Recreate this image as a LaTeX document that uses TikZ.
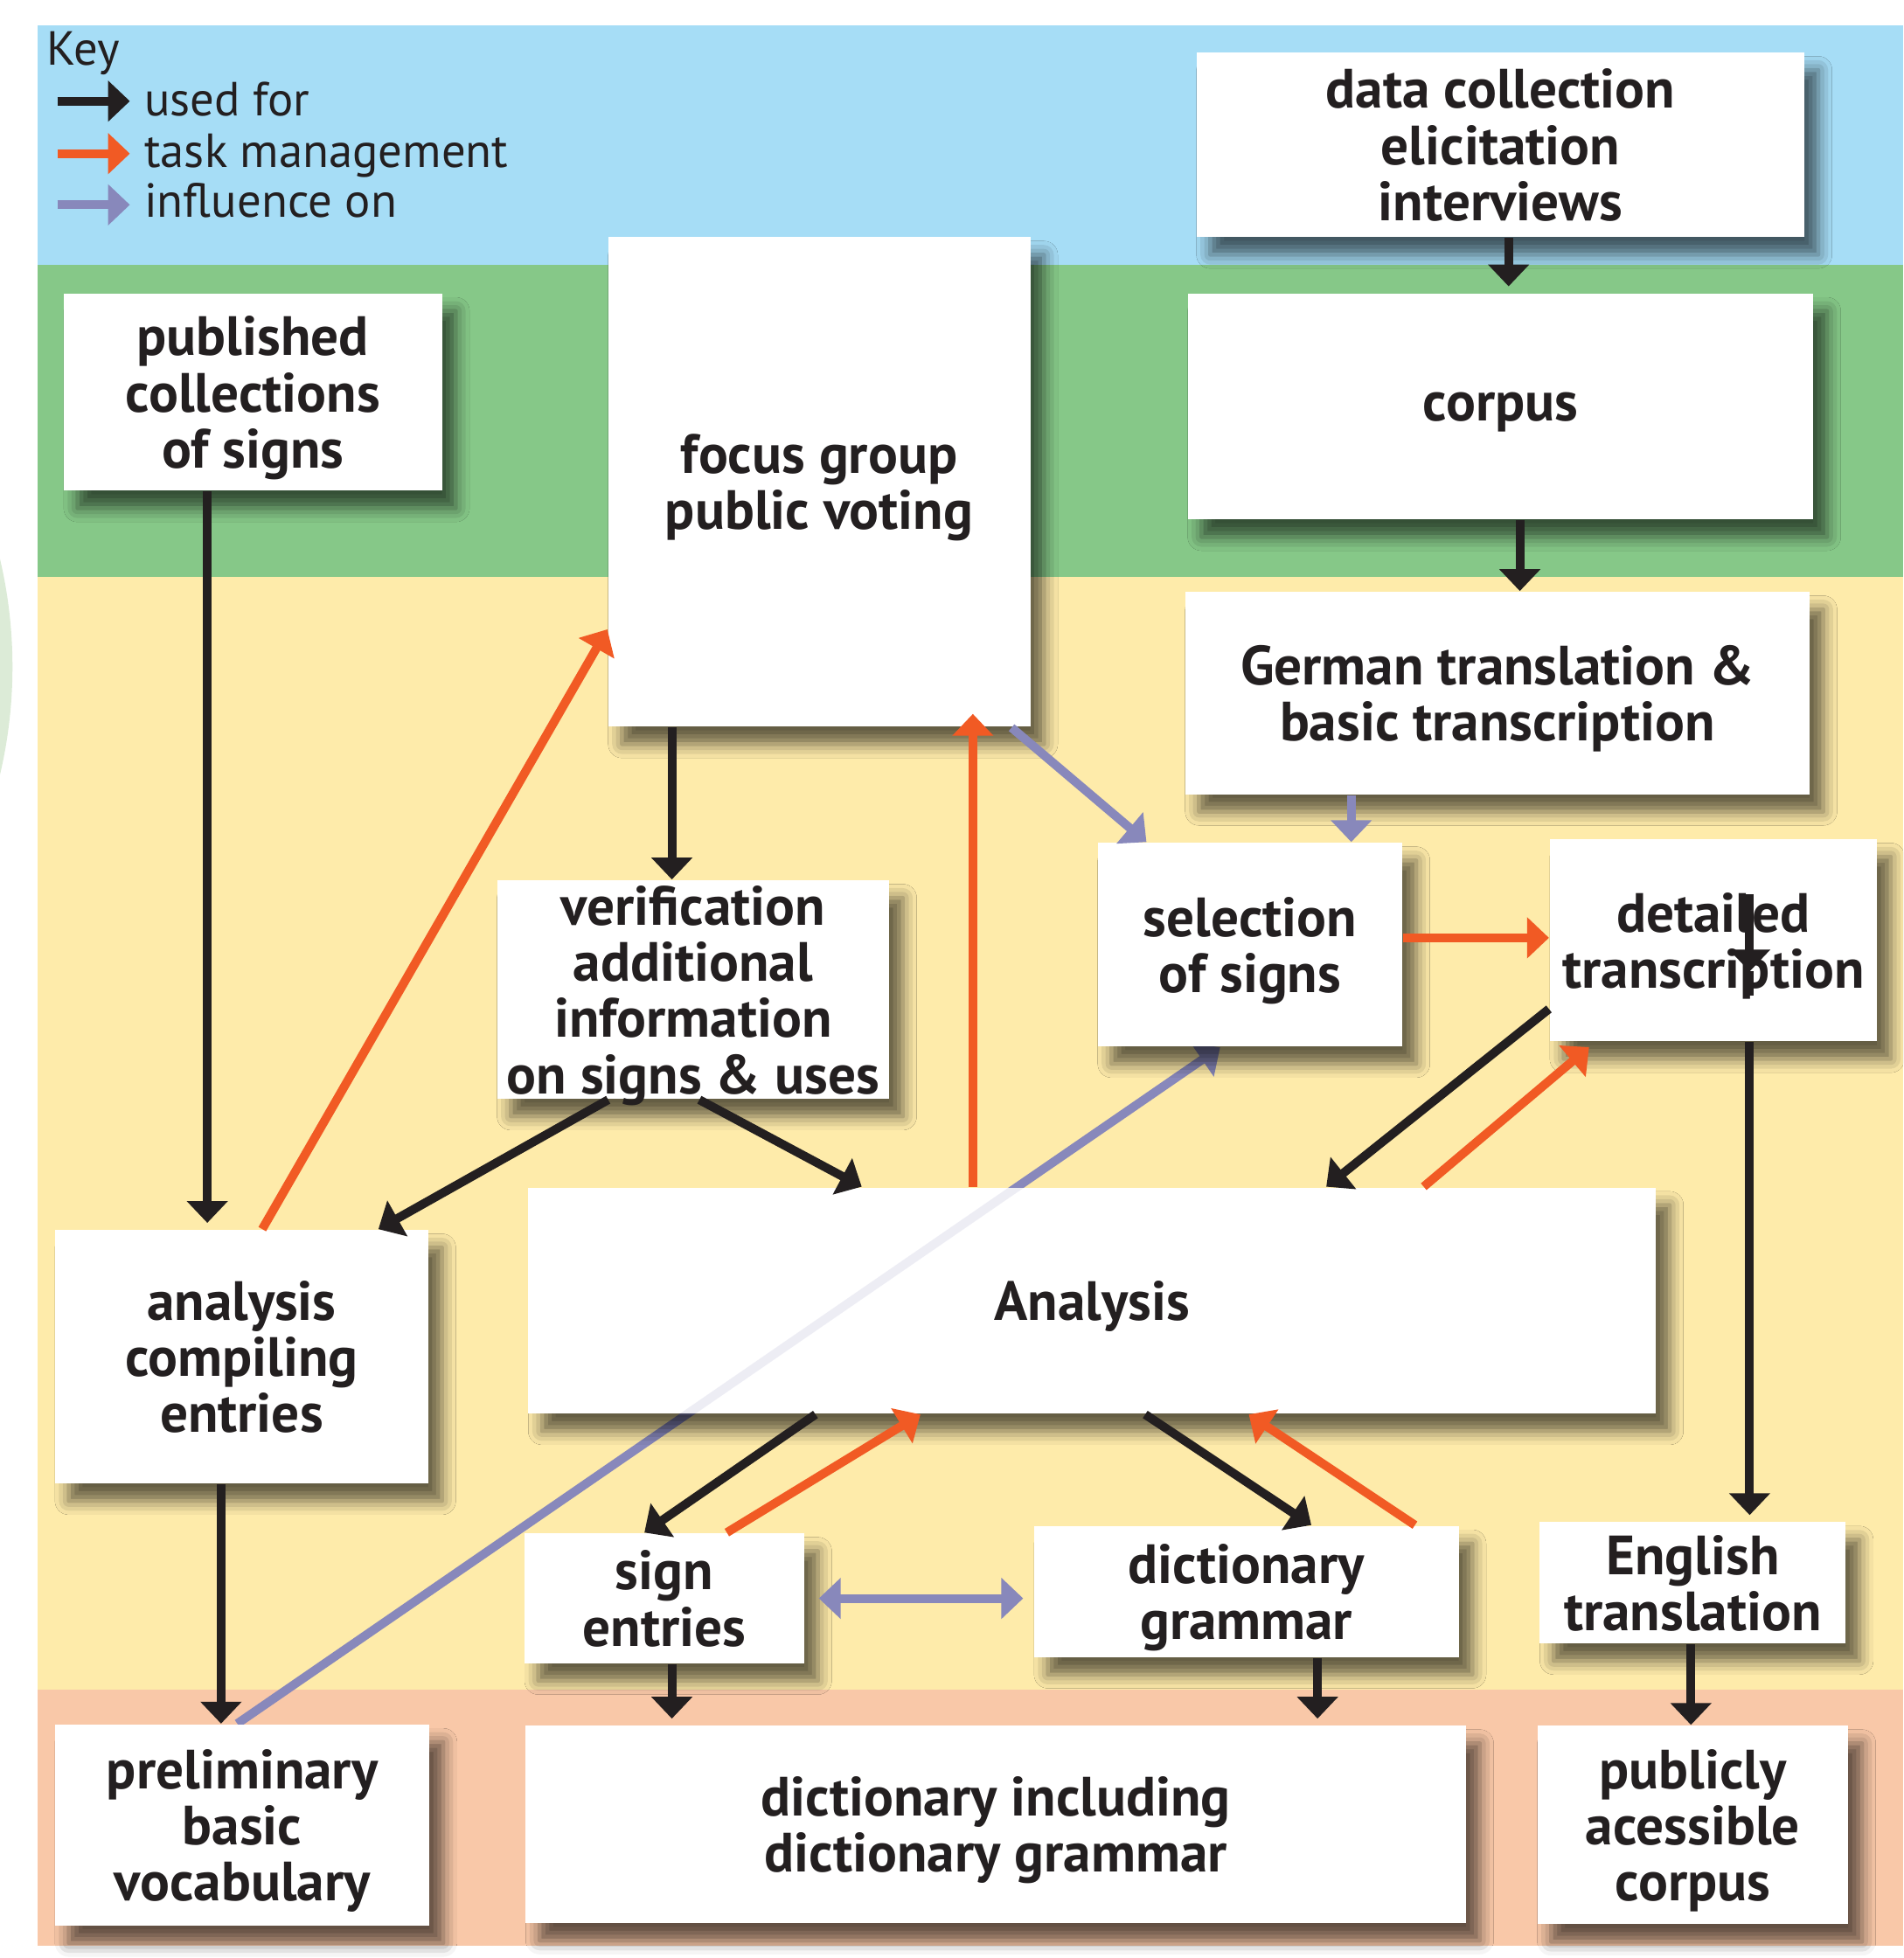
\documentclass[tikz,border=0pt]{standalone}
\usepackage{fontspec}
\setmainfont{PT Sans}
\usepackage{xcolor}
\usepackage{tikz}
\usetikzlibrary{arrows.meta,positioning,backgrounds,shadows.blur}
\definecolor{kink}{RGB}{35,31,32}
\definecolor{korange}{RGB}{241,90,36}
\definecolor{kpurple}{RGB}{136,136,187}
\definecolor{bandblue}{RGB}{166,221,246}
\definecolor{bandgreen}{RGB}{134,200,136}
\definecolor{bandyellow}{RGB}{254,235,170}
\definecolor{bandsalmon}{RGB}{249,200,168}
\definecolor{ringgreen}{RGB}{220,235,215}

\begin{document}
\begin{tikzpicture}[
  x=0.1mm, y=-0.1mm, text=kink,
  font=\fontsize{12.6}{12.8}\selectfont\bfseries,
  box/.style={fill=white, align=center, inner sep=0pt, text depth=0pt,
    blur shadow={shadow xshift=1.1mm, shadow yshift=-1.4mm, shadow blur radius=1.1mm, shadow opacity=60}},
  keylab/.style={anchor=base west, inner sep=0pt, font=\fontsize{10.9}{13}\selectfont},
  conn/.style={line width=0.7mm, -{Triangle[length=1.75mm, width=3.2mm]}},
  usedfor/.style={conn, draw=kink},
  taskmgmt/.style={conn, draw=korange},
  influence/.style={conn, draw=kpurple}
]
\useasboundingbox (0,0) rectangle (1524,1568);

% key
\node[keylab] (keytitle) at (37,52) {Key};
\node[keylab] (keyused) at (115,93) {used for};
\node[keylab] (keytask) at (115,134) {task management};
\node[keylab] (keyinfl) at (115,174) {influence on};
\draw[usedfor] ([shift={(-69,-12)}]keyused.base west) -- ([shift={(-11,-12)}]keyused.base west);
\draw[taskmgmt] ([shift={(-69,-11)}]keytask.base west) -- ([shift={(-11,-11)}]keytask.base west);
\draw[influence] ([shift={(-69,-10)}]keyinfl.base west) -- ([shift={(-11,-10)}]keyinfl.base west);

% boxes
\node[box, minimum width=48.7mm, minimum height=14.8mm] (datacoll) at (1201.5,116) {data collection\\elicitation\\interviews};
\node[box, minimum width=50.1mm, minimum height=18.1mm] (corpus) at (1201.5,325.5) {corpus};
\node[box, minimum width=30.3mm, minimum height=15.8mm] (published) at (202.5,314) {published\\collections\\of signs};
\node[box, minimum width=33.8mm, minimum height=39.2mm] (focus) at (656,386) {focus group\\public voting};
\node[box, minimum width=50.0mm, minimum height=16.2mm] (german) at (1199,555) {German translation \&\\basic transcription};
\node[box, minimum width=31.4mm, minimum height=17.5mm] (verif) at (555,792.5) {verification\\additional\\information\\on signs \& uses};
\node[box, minimum width=24.4mm, minimum height=16.3mm] (selection) at (1001,756.5) {selection\\of signs};
\node[box, minimum width=26.2mm, minimum height=16.2mm] (detailed) at (1372,753) {detailed\\transcription};
\node[box, minimum width=29.9mm, minimum height=20.3mm] (compiling) at (193.5,1086.5) {analysis\\compiling\\entries};
\node[box, minimum width=90.3mm, minimum height=18.1mm] (analysis) at (874.5,1041.5) {Analysis};
\node[box, minimum width=22.4mm, minimum height=10.4mm] (signs) at (532,1280) {sign\\entries};
\node[box, minimum width=34.0mm, minimum height=10.5mm] (grammar) at (998,1274.5) {dictionary\\grammar};
\node[box, minimum width=24.5mm, minimum height=9.7mm] (english) at (1355.5,1267.5) {English\\translation};
\node[box, minimum width=30.0mm, minimum height=16.1mm] (prelim) at (194,1461.5) {preliminary\\basic\\vocabulary};
\node[box, minimum width=75.3mm, minimum height=15.8mm] (dictincl) at (797.5,1461) {dictionary including\\dictionary grammar};
\node[box, minimum width=24.9mm, minimum height=15.9mm] (public) at (1355.5,1461.5) {publicly\\acessible\\corpus};

% bands and the long influence line go underneath
\begin{scope}[on background layer]
  \begin{scope}
    \clip (0,0) rectangle (1524,1568);
    \fill[ringgreen] (-365,534) circle[radius=37.5mm];
  \end{scope}
  \fill[bandblue] (30,20) rectangle (1524,212);
  \fill[bandgreen] (30,212) rectangle (1524,462);
  \fill[bandyellow] (30,462) rectangle (1524,1353);
  \fill[bandsalmon] (30,1353) rectangle (1524,1558);
  \draw[influence] (prelim.north -| 190,0) -- (selection.south -| 977,0);
\end{scope}
\begin{scope}
  \clip (analysis.south west) rectangle (analysis.north east);
  \draw[influence, draw opacity=.15] (prelim.north -| 190,0) -- (selection.south -| 977,0);
\end{scope}

% used for
\draw[usedfor, shorten >=0.5mm] (datacoll.south -| 1208,0) -- (corpus.north -| 1208,0);
\draw[usedfor] (corpus.south -| 1217,0) -- (german.north -| 1217,0);
\draw[usedfor, shorten >=0.5mm] (published.south -| 166,0) -- (compiling.north -| 166,0);
\draw[usedfor] (focus.south -| 538,0) -- (verif.north -| 538,0);
\draw[usedfor] (verif.south -| 487,0) -- (compiling.north -| 303,0);
\draw[usedfor] (verif.south -| 560,0) -- (analysis.north -| 690,0);
\draw[usedfor] (detailed.west |- 0,808) -- (analysis.north -| 1062,0);
\draw[usedfor, shorten >=0.5mm] (detailed.south -| 1401,0) -- (english.north -| 1401,0);
\coordinate (dtstart) at (1401,716);
\coordinate (dttip) at (1401,778);
\coordinate (dtend) at (1401,797);
\draw[usedfor] (dtstart) -- (dttip);
\draw[kink, line width=0.7mm] (dttip) -- (dtend);
\draw[usedfor] (analysis.south -| 653,0) -- (signs.north -| 516,0);
\draw[usedfor] (analysis.south -| 917,0) -- (grammar.north -| 1050,0);
\draw[usedfor] (compiling.south -| 177,0) -- (prelim.north -| 177,0);
\draw[usedfor, shorten >=0.5mm] (signs.south -| 538,0) -- (dictincl.north -| 538,0);
\draw[usedfor, shorten >=0.5mm] (grammar.south -| 1055,0) -- (dictincl.north -| 1055,0);
\draw[usedfor] (english.south -| 1354,0) -- (public.north -| 1354,0);

% task management
\draw[taskmgmt] (compiling.north -| 210,0) -- (focus.west |- 0,504);
\draw[taskmgmt, shorten >=-1.1mm] (analysis.north -| 779,0) -- (focus.south -| 779,0);
\draw[taskmgmt] (selection.east |- 0,751) -- (detailed.west |- 0,751);
\draw[taskmgmt, shorten >=0.6mm] (analysis.north -| 1140,0) -- (detailed.south -| 1277,0);
\draw[taskmgmt] (signs.north -| 582,0) -- (analysis.south -| 737,0);
\draw[taskmgmt] (grammar.north -| 1133,0) -- (analysis.south -| 1000,0);

% influence on
\draw[influence] (focus.south -| 810,0) -- (selection.north -| 918,0);
\draw[influence] (german.south -| 1082,0) -- (selection.north -| 1082,0);
\draw[influence, {Triangle[length=1.75mm, width=3.2mm]}-{Triangle[length=1.75mm, width=3.2mm]}, shorten <=1.1mm, shorten >=0.8mm]
  (signs.east |- 0,1280) -- (grammar.west |- 0,1280);
\end{tikzpicture}
\end{document}
